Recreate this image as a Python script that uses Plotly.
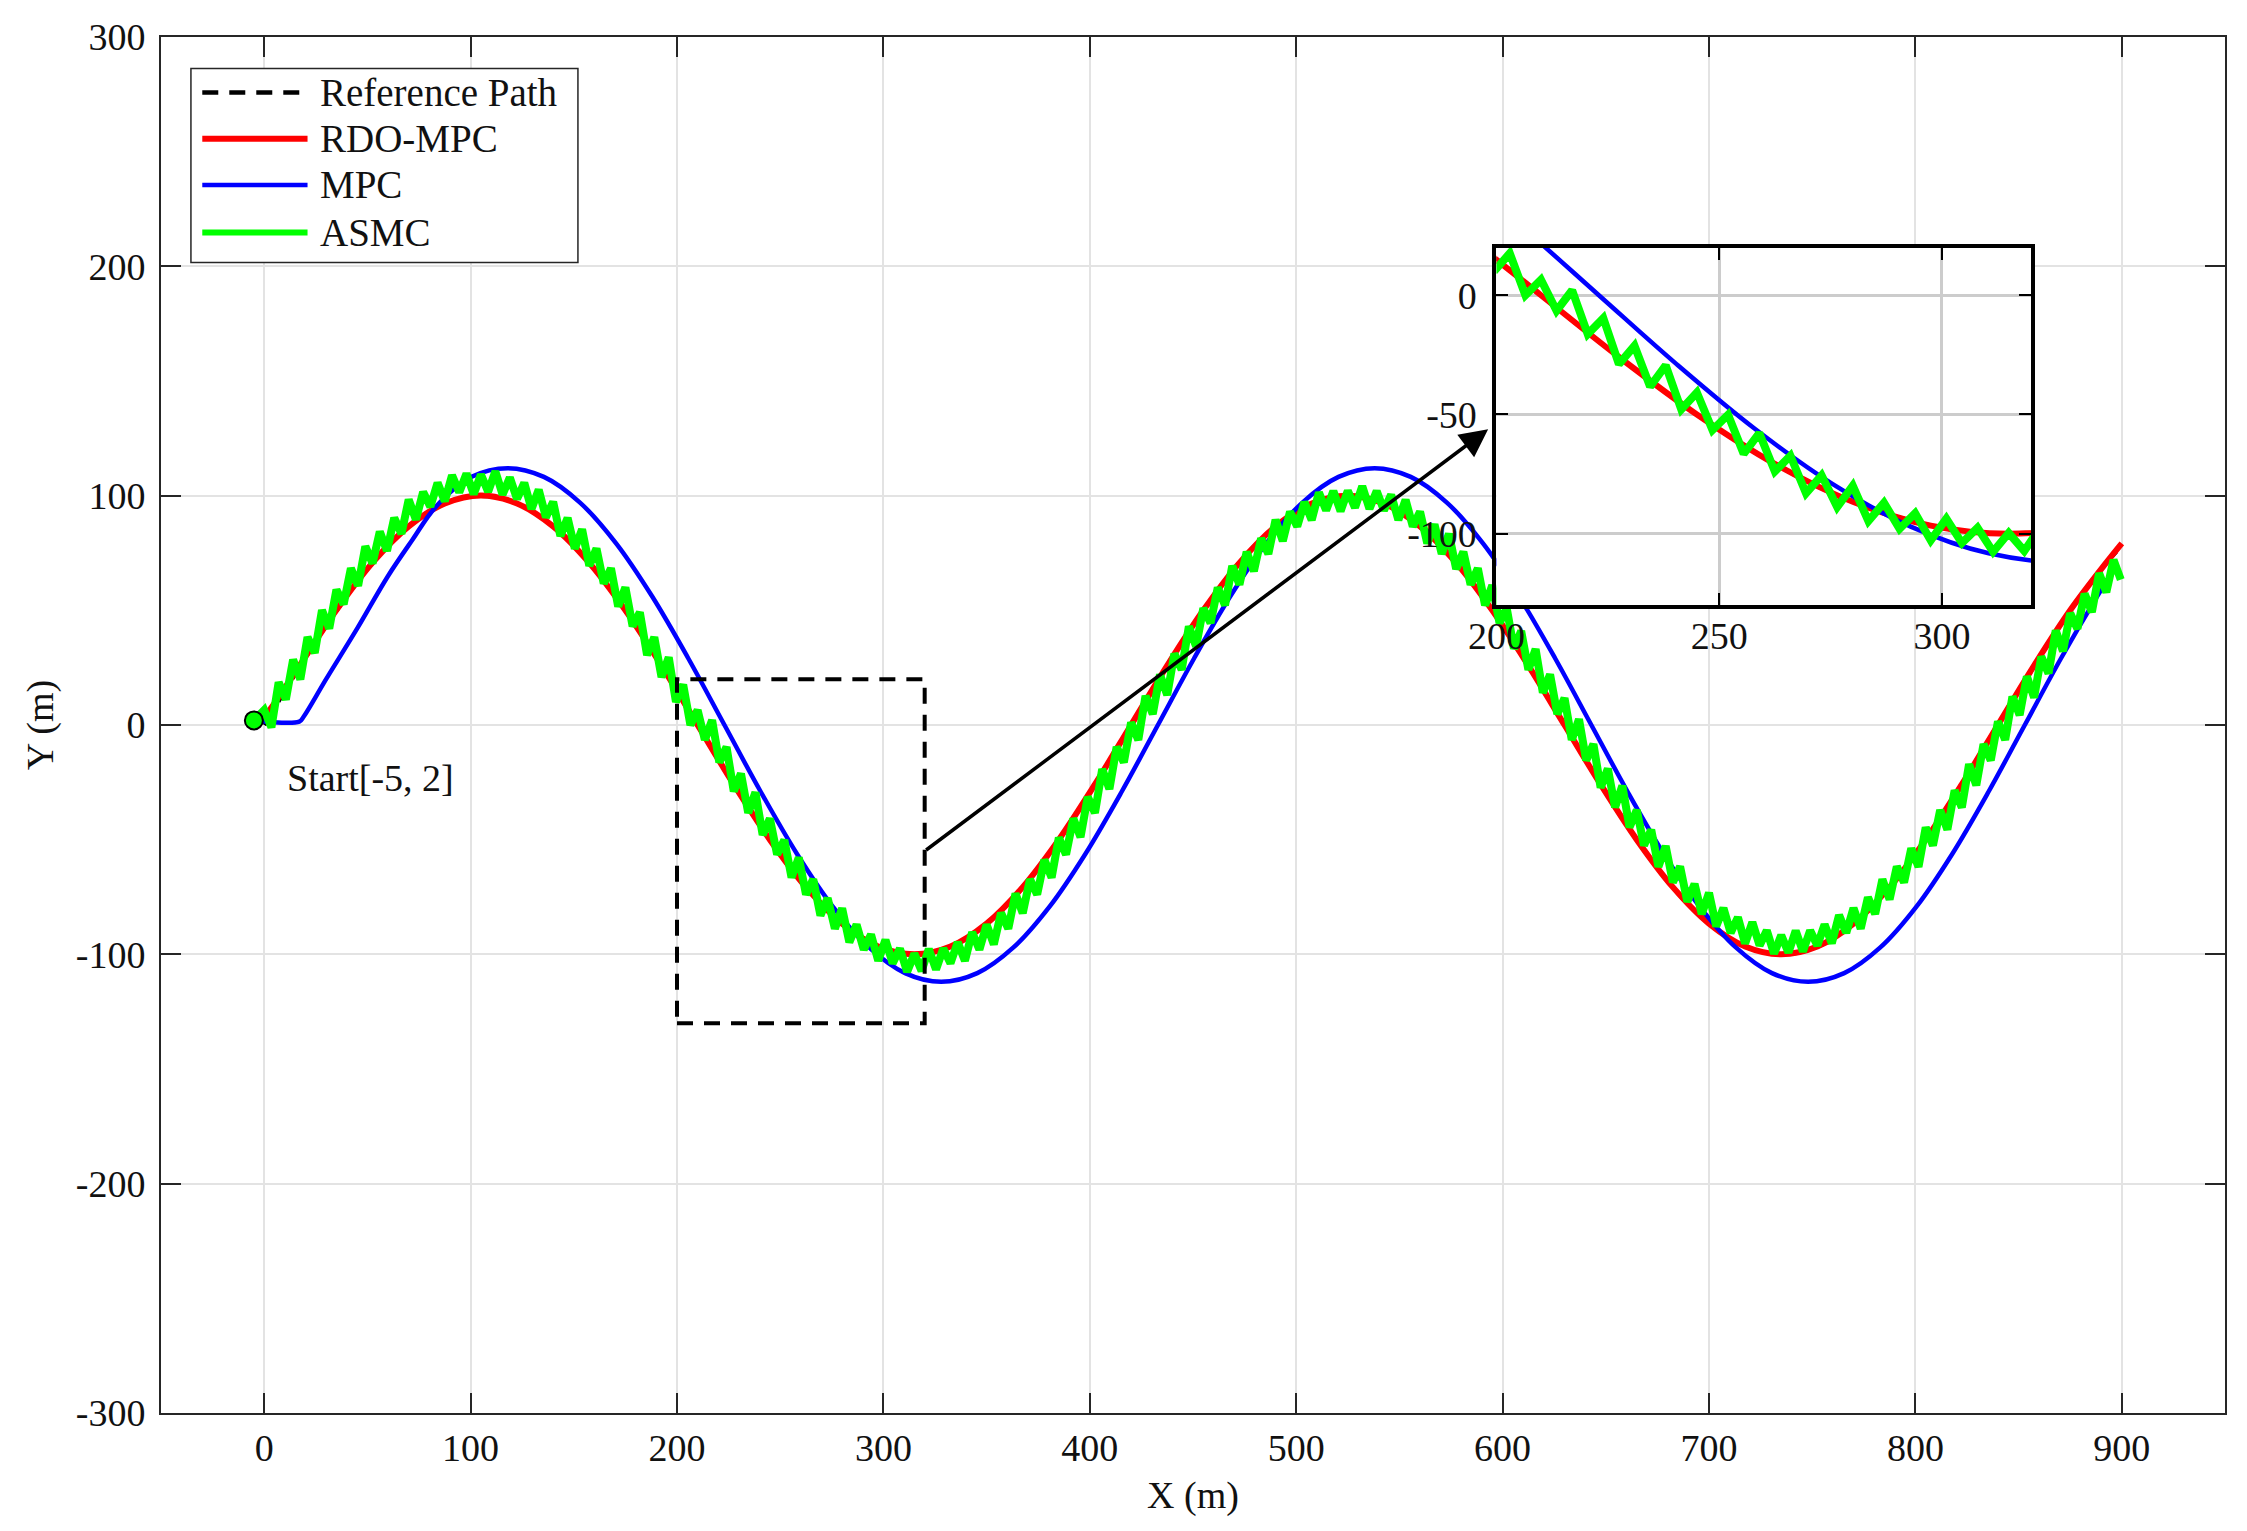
import plotly.graph_objects as go

FONT = "Liberation Serif, Times New Roman, serif"

# reference path (m)
ref_x = [0, 17.5, 35, 52.5, 70, 87.5, 105, 122.5, 140, 157.5, 175, 192.5, 210, 227.5, 245, 262.5,
         280, 297.5, 315, 332.5, 350, 367.5, 385, 402.5, 420, 437.5, 455, 472.5, 490, 507.5, 525,
         542.5, 560, 577.5, 595, 612.5, 630, 647.5, 665, 682.5, 700, 717.5, 735, 752.5, 770, 787.5,
         805, 822.5, 840, 857.5, 875, 892.5, 900]
ref_y = [0, 25.9, 50, 70.7, 86.6, 96.6, 100, 96.6, 86.6, 70.7, 50, 25.9, 0, -25.9, -50, -70.7,
         -86.6, -96.6, -100, -96.6, -86.6, -70.7, -50, -25.9, 0, 25.9, 50, 70.7, 86.6, 96.6, 100,
         96.6, 86.6, 70.7, 50, 25.9, 0, -25.9, -50, -70.7, -86.6, -96.6, -100, -96.6, -86.6, -70.7,
         -50, -25.9, 0, 25.9, 50, 70.7, 78.2]

# RDO-MPC
rdo_x = [-5, 0, 8.75, 17.5, 35, 52.5, 70, 87.5, 105, 122.5, 140, 157.5, 175, 192.5, 210, 227.5,
         245, 262.5, 280, 297.5, 315, 332.5, 350, 367.5, 385, 402.5, 420, 437.5, 455, 472.5, 490,
         507.5, 525, 542.5, 560, 577.5, 595, 612.5, 630, 647.5, 665, 682.5, 700, 717.5, 735, 752.5,
         770, 787.5, 805, 822.5, 840, 857.5, 875, 892.5, 900]
rdo_y = [2, 4, 14.5, 26.4, 50.1, 70.8, 86.6, 96.6, 100.1, 96.6, 86.6, 70.7, 50, 25.9, 0, -25.9,
         -50, -70.7, -86.6, -96.6, -100, -96.6, -86.6, -70.7, -50, -25.9, 0, 25.9, 50, 70.7, 86.6,
         96.6, 100, 96.6, 86.6, 70.7, 50, 25.9, 0, -25.9, -50, -70.7, -86.6, -96.6, -100, -96.6,
         -86.6, -70.7, -50, -25.9, 0, 25.9, 50, 70.8, 79.2]

# MPC
mpc_x = [-5, 17, 19, 30, 45, 60, 72, 83, 100.5, 118, 135.5, 153, 170.5, 188, 205.5, 223, 240.5,
         258, 275.5, 293, 310.5, 328, 345.5, 363, 380.5, 398, 415.5, 433, 450.5, 468, 485.5, 503,
         520.5, 538, 555.5, 573, 590.5, 608, 625.5, 643, 660.5, 678, 695.5, 713, 730.5, 748, 765.5,
         783, 800.5, 818, 835.5, 853, 870.5, 888, 891]
mpc_y = [2, 1.5, 3.5, 20, 42, 65, 81, 95, 108.2, 112, 108.2, 97, 79.2, 56, 29, 0, -29,
         -56, -79.2, -97, -108.2, -112, -108.2, -97, -79.2, -56, -29, 0, 29, 56, 79.2, 97,
         108.2, 112, 108.2, 97, 79.2, 56, 29, 0, -29, -56, -79.2, -97, -108.2, -112, -108.2,
         -97, -79.2, -56, -29, 0, 29, 56, 60.3]

# ASMC (chattering)
asmc_x = [-5,
          0, 3.5, 7, 10.5, 14, 17.5, 21, 24.5, 28, 31.5,
          35, 38.5, 42, 45.5, 49, 52.5, 56, 59.5, 63, 66.5,
          70, 73.5, 77, 80.5, 84, 87.5, 91, 94.5, 98, 101.5,
          105, 108.5, 112, 115.5, 119, 122.5, 126, 129.5, 133, 136.5,
          140, 143.5, 147, 150.5, 154, 157.5, 161, 164.5, 168, 171.5,
          175, 178.5, 182, 185.5, 189, 192.5, 196, 199.5, 203, 206.5,
          210, 213.5, 217, 220.5, 224, 227.5, 231, 234.5, 238, 241.5,
          245, 248.5, 252, 255.5, 259, 262.5, 266, 269.5, 273, 276.5,
          280, 283.5, 287, 290.5, 294, 297.5, 301, 304.5, 308, 311.5,
          315, 318.5, 322, 325.5, 329, 332.5, 336, 339.5, 343, 346.5,
          350, 353.5, 357, 360.5, 364, 367.5, 371, 374.5, 378, 381.5,
          385, 388.5, 392, 395.5, 399, 402.5, 406, 409.5, 413, 416.5,
          420, 423.5, 427, 430.5, 434, 437.5, 441, 444.5, 448, 451.5,
          455, 458.5, 462, 465.5, 469, 472.5, 476, 479.5, 483, 486.5,
          490, 493.5, 497, 500.5, 504, 507.5, 511, 514.5, 518, 521.5,
          525, 528.5, 532, 535.5, 539, 542.5, 546, 549.5, 553, 556.5,
          560, 563.5, 567, 570.5, 574, 577.5, 581, 584.5, 588, 591.5,
          595, 598.5, 602, 605.5, 609, 612.5, 616, 619.5, 623, 626.5,
          630, 633.5, 637, 640.5, 644, 647.5, 651, 654.5, 658, 661.5,
          665, 668.5, 672, 675.5, 679, 682.5, 686, 689.5, 693, 696.5,
          700, 703.5, 707, 710.5, 714, 717.5, 721, 724.5, 728, 731.5,
          735, 738.5, 742, 745.5, 749, 752.5, 756, 759.5, 763, 766.5,
          770, 773.5, 777, 780.5, 784, 787.5, 791, 794.5, 798, 801.5,
          805, 808.5, 812, 815.5, 819, 822.5, 826, 829.5, 833, 836.5,
          840, 843.5, 847, 850.5, 854, 857.5, 861, 864.5, 868, 871.5,
          875, 878.5, 882, 885.5, 889, 892.5, 896, 899.5]
asmc_y = [2,
          6.5, -1.0, 18.6, 11.1, 28.5, 19.9, 38.3, 31.5, 50.1, 42.1,
          59.0, 52.7, 68.3, 60.7, 77.9, 70.5, 84.3, 75.9, 90.3, 83.4,
          98.3, 89.6, 101.6, 95.2, 105.6, 97.6, 108.9, 101.5, 109.6, 100.7,
          109.2, 101.7, 110.6, 100.5, 107.9, 98.6, 105.6, 94.2, 102.6, 90.6,
          97.3, 82.4, 90.3, 76.9, 85.3, 69.5, 76.9, 61.7, 68.3, 51.7,
          60.0, 43.1, 49.1, 30.5, 38.3, 20.9, 29.5, 10.1, 17.6, 0.0,
          6.5, -6.5, 2.1, -16.3, -9.6, -28.9, -21.2, -38.3, -29.4, -47.9,
          -40.8, -56.5, -50.1, -66.5, -57.8, -73.9, -67.3, -83.0, -75.5, -88.8,
          -79.9, -94.7, -87.0, -97.9, -91.4, -102.8, -93.7, -103.9, -97.5, -107.6,
          -99.7, -107.2, -97.7, -106.6, -97.5, -103.9, -94.7, -102.8, -90.4, -97.9,
          -87.0, -95.7, -81.9, -88.8, -73.5, -82.0, -67.3, -73.9, -58.8, -66.5,
          -49.1, -56.5, -40.8, -48.9, -31.4, -38.3, -19.2, -27.9, -9.6, -16.3,
          1.1, -6.5, 12.7, 4.8, 22.0, 13.1, 31.1, 24.1, 43.0, 34.3,
          50.9, 44.5, 59.9, 52.2, 69.3, 61.2, 75.5, 67.1, 81.4, 74.6,
          89.5, 80.2, 93.0, 86.6, 97.2, 89.4, 101.4, 93.6, 102.0, 93.3,
          102.1, 94.8, 104.1, 94.3, 102.0, 93.6, 100.4, 89.4, 98.2, 86.6,
          93.0, 79.2, 87.5, 74.6, 83.4, 68.1, 75.5, 61.2, 68.3, 52.2,
          60.9, 44.5, 50.9, 33.3, 41.0, 24.1, 33.1, 14.1, 22.0, 4.8,
          11.7, -6.5, 2.5, -15.4, -8.4, -27.3, -19.1, -35.9, -26.5, -44.6,
          -37.1, -52.5, -45.7, -61.8, -52.8, -68.6, -61.7, -77.1, -69.3, -82.4,
          -73.2, -87.8, -79.8, -90.6, -83.9, -95.2, -86.0, -96.1, -89.6, -99.7,
          -91.7, -99.2, -89.7, -98.7, -89.6, -96.1, -87.0, -95.2, -82.9, -90.6,
          -79.8, -88.8, -75.2, -82.4, -67.3, -76.1, -61.7, -68.6, -53.8, -61.8,
          -44.7, -52.5, -37.1, -45.6, -28.5, -35.9, -17.1, -26.3, -8.4, -15.4,
          1.5, -6.5, 12.4, 4.3, 21.2, 12.0, 29.8, 22.5, 41.2, 32.2,
          48.7, 42.0, 57.2, 49.3, 66.2, 57.9, 72.0, 63.4]

start_pt = [-5, 2]
start_label = "Start[-5, 2]"

x_ticks = [0, 100, 200, 300, 400, 500, 600, 700, 800, 900]
y_ticks = [-300, -200, -100, 0, 100, 200, 300]
y_tick_text = ["-300", "-200", "-100", "0", "100", "200", "300"]
inset_x_ticks = [200, 250, 300]
inset_y_ticks = [-100, -50, 0]
inset_y_text = ["-100", "-50", "0"]

# zoomed window [x0, x1, y0, y1]
zoom_box = [200, 320, -130, 20]

legend_names = ["Reference Path", "RDO-MPC", "MPC", "ASMC"]

DASH = "16px,11px"
lines = [
    dict(color="#000000", width=4.5, dash=DASH, shape="spline"),
    dict(color="#ff0000", width=6, shape="spline"),
    dict(color="#0000ff", width=4.5, shape="spline"),
    dict(color="#00ff00", width=8),
]
data = [(ref_x, ref_y), (rdo_x, rdo_y), (mpc_x, mpc_y), (asmc_x, asmc_y)]

fig = go.Figure()

for xa, ya in (("x", "y"), ("x2", "y2")):
    for name, (xs, ys), ln in zip(legend_names, data, lines):
        fig.add_trace(go.Scatter(x=xs, y=ys, mode="lines", name=name, line=ln,
                                 xaxis=xa, yaxis=ya, showlegend=False, hoverinfo="skip"))

fig.add_trace(go.Scatter(x=[start_pt[0]], y=[start_pt[1]], mode="markers", showlegend=False,
                         marker=dict(size=18, color="#00ff00", line=dict(color="black", width=2)),
                         hoverinfo="skip"))

tfont = dict(family=FONT, size=38, color="#111111")
main_ax = dict(ticks="inside", ticklen=20, tickwidth=1.5, tickcolor="#262626",
               showline=True, linecolor="#262626", linewidth=2, mirror="ticks",
               showgrid=True, gridcolor="#e3e3e3", gridwidth=1.5, zeroline=False,
               tickfont=tfont)
inset_ax = dict(ticks="inside", ticklen=12, tickwidth=2, tickcolor="#000000",
                showline=True, linecolor="#000000", linewidth=4, mirror="ticks",
                showgrid=True, gridcolor="#cccccc", gridwidth=2.5, zeroline=False,
                tickfont=tfont)

fig.update_layout(
    width=2247, height=1531,
    margin=dict(l=161, r=22, t=37, b=118),
    paper_bgcolor="white", plot_bgcolor="white",
    showlegend=False,
    xaxis=dict(main_ax, range=[-50, 950], tickvals=x_ticks, ticktext=[str(v) for v in x_ticks],
               ticklabelstandoff=0, title=dict(text="X (m)", font=tfont, standoff=14)),
    yaxis=dict(main_ax, range=[-300, 300], tickvals=y_ticks, ticktext=y_tick_text,
               ticklabelstandoff=6, title=dict(text="Y (m)", font=tfont, standoff=10)),
    xaxis2=dict(inset_ax, domain=[0.647, 0.906], anchor="y2", range=[zoom_box[0], zoom_box[1]],
                tickvals=inset_x_ticks, ticktext=[str(v) for v in inset_x_ticks],
                ticklabelstandoff=-6),
    yaxis2=dict(inset_ax, domain=[0.587, 0.847], anchor="x2", range=[zoom_box[2], zoom_box[3]],
                tickvals=inset_y_ticks, ticktext=inset_y_text, ticklabelstandoff=8),
)

# zoom window and arrow to the inset
fig.add_shape(type="rect", xref="x", yref="y", x0=zoom_box[0], x1=zoom_box[1],
              y0=zoom_box[2], y1=zoom_box[3], line=dict(color="black", width=4, dash=DASH))
fig.add_annotation(x=593, y=129, ax=zoom_box[1], ay=-55, xref="x", yref="y", axref="x", ayref="y",
                   text="", showarrow=True, arrowhead=2, arrowsize=1.6, arrowwidth=3.5,
                   arrowcolor="black")

fig.add_annotation(x=10, y=-23, xref="x", yref="y", text=start_label, showarrow=False,
                   xanchor="left", yanchor="middle", font=tfont)

# legend box drawn by hand (MATLAB style, long line samples)
fig.add_shape(type="rect", xref="x", yref="y", x0=-35.5, x1=152, y0=201.7, y1=286.3,
              line=dict(color="#262626", width=1.5), fillcolor="white", layer="above")
rows = [275.8, 255.6, 235.5, 214.8]
for name, ln, ry in zip(legend_names, lines, rows):
    fig.add_shape(type="line", xref="x", yref="y", x0=-30, x1=21, y0=ry, y1=ry,
                  line=dict(color=ln["color"], width=min(ln["width"], 6), dash=ln.get("dash", "solid")))
    fig.add_annotation(x=26, y=ry, xref="x", yref="y", text=name, showarrow=False,
                       xanchor="left", yanchor="middle", font=dict(tfont, size=39))

fig.write_html("out.html", config={"displayModeBar": False},
               post_script="document.body.style.margin='0';document.body.style.overflow='hidden';")
